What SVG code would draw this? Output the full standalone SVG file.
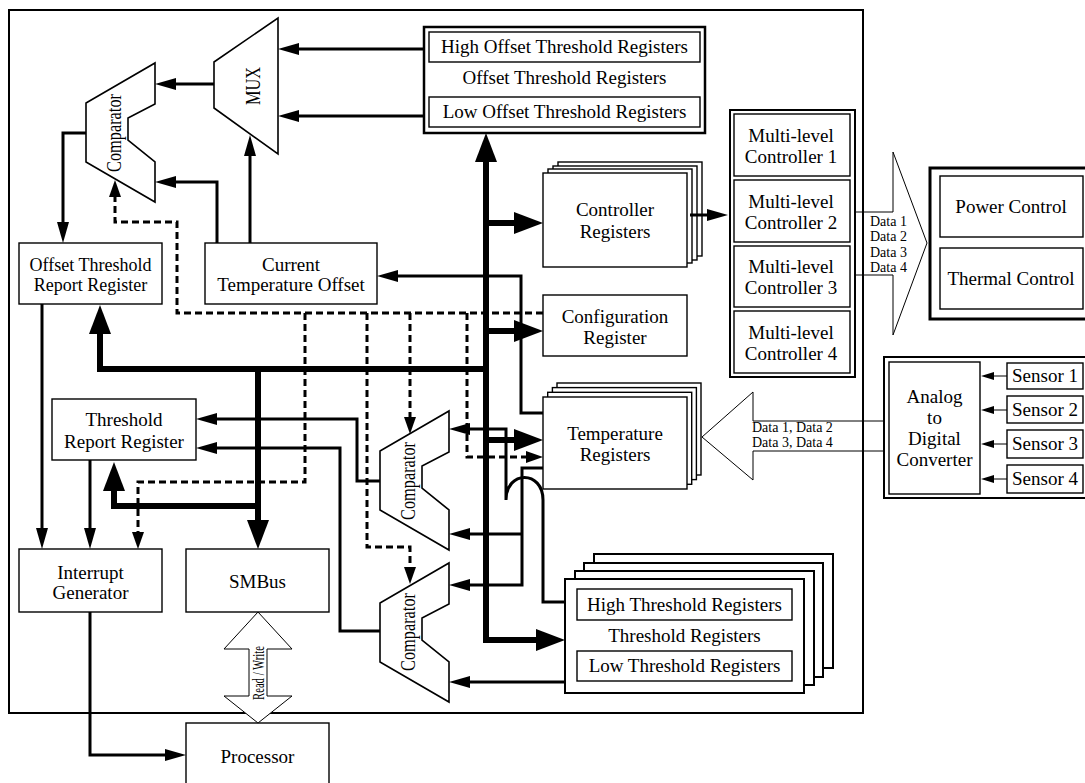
<svg xmlns="http://www.w3.org/2000/svg" width="1085" height="783" viewBox="0 0 1085 783">
<style>
.box{fill:#fff;stroke:#000;stroke-width:1.4}
.bold{fill:#fff;stroke:#000;stroke-width:2.5}
.t{font-family:"Liberation Serif","Times New Roman",serif;font-size:19px;text-anchor:middle;fill:#000}
.s{font-family:"Liberation Serif","Times New Roman",serif;font-size:14px;fill:#000}
.ln{fill:none;stroke:#000;stroke-width:3}
.thk{fill:none;stroke:#000;stroke-width:6}
.dsh{fill:none;stroke:#000;stroke-width:3;stroke-dasharray:7 4}
.thin{fill:none;stroke:#000;stroke-width:1}
.cmp{fill:#fff;stroke:#000;stroke-width:1.6}
</style>
<defs>
<marker id="a" markerUnits="userSpaceOnUse" markerWidth="21" markerHeight="12" refX="1" refY="6" orient="auto-start-reverse"><path d="M0,0 L21,6 L0,12 Z" fill="#000"/></marker>
<marker id="at" markerUnits="userSpaceOnUse" markerWidth="29" markerHeight="22" refX="1" refY="11" orient="auto-start-reverse"><path d="M0,0 L29,11 L0,22 Z" fill="#000"/></marker>
<marker id="ad" markerUnits="userSpaceOnUse" markerWidth="17" markerHeight="12" refX="1" refY="6" orient="auto"><path d="M0,0 L17,6 L0,12 Z" fill="#000"/></marker>
<marker id="as" markerUnits="userSpaceOnUse" markerWidth="13" markerHeight="8" refX="1" refY="4" orient="auto"><path d="M0,0 L13,4 L0,8 Z" fill="#000"/></marker>
<path id="comp" d="M0,0 L0,41 L-27,55 L-27,77 L0,99 L0,139 L-69,99 L-69,40 Z"/>
</defs>
<rect width="1085" height="783" fill="#fff"/>
<rect x="9" y="10" width="854" height="703" fill="none" stroke="#000" stroke-width="2"/>

<g id="offset-threshold-registers">
<rect class="bold" x="424" y="27" width="281" height="106"/>
<rect class="box" x="429" y="32" width="271" height="30"/>
<text class="t" x="564.5" y="53">High Offset Threshold Registers</text>
<text class="t" x="564.5" y="84">Offset Threshold Registers</text>
<rect class="box" x="429" y="97" width="271" height="30"/>
<text class="t" x="564.5" y="118">Low Offset Threshold Registers</text>
</g>

<g id="mux">
<polygon class="cmp" points="214,62 278,18 278,154 214,108"/>
<text class="t" style="font-size:22px" transform="translate(260,86) rotate(-90)" textLength="38" lengthAdjust="spacingAndGlyphs">MUX</text>
</g>

<g id="comparator-offset">
<use href="#comp" class="cmp" transform="translate(155,63)"/>
<text class="t" style="font-size:20px" transform="translate(121,133) rotate(-90)" textLength="78" lengthAdjust="spacingAndGlyphs">Comparator</text>
</g>

<g id="comparator-high">
<use href="#comp" class="cmp" transform="translate(449,411)"/>
<text class="t" style="font-size:20px" transform="translate(415,481) rotate(-90)" textLength="78" lengthAdjust="spacingAndGlyphs">Comparator</text>
</g>

<g id="comparator-low">
<use href="#comp" class="cmp" transform="translate(449,563)"/>
<text class="t" style="font-size:20px" transform="translate(415,632) rotate(-90)" textLength="78" lengthAdjust="spacingAndGlyphs">Comparator</text>
</g>

<g id="offset-threshold-report-register">
<rect class="box" x="19" y="243" width="143" height="61"/>
<text class="t" style="font-size:18px" x="90.5" y="271">Offset Threshold</text>
<text class="t" style="font-size:18px" x="90.5" y="291">Report Register</text>
</g>

<g id="current-temperature-offset">
<rect class="box" x="205" y="243" width="172" height="61"/>
<text class="t" x="291" y="271">Current</text>
<text class="t" x="291" y="291">Temperature Offset</text>
</g>

<g id="threshold-report-register">
<rect class="box" x="52" y="399" width="144" height="61"/>
<text class="t" x="124" y="426">Threshold</text>
<text class="t" x="124" y="448">Report Register</text>
</g>

<g id="interrupt-generator">
<rect class="box" x="19" y="549" width="143" height="63"/>
<text class="t" x="90.5" y="579">Interrupt</text>
<text class="t" x="90.5" y="599">Generator</text>
</g>

<g id="smbus">
<rect class="box" x="186" y="549" width="143" height="63"/>
<text class="t" x="257.5" y="588">SMBus</text>
</g>

<g id="processor">
<rect class="box" x="186" y="723" width="143" height="75"/>
<text class="t" x="257.5" y="763">Processor</text>
</g>

<g id="controller-registers">
<rect class="box" x="558" y="162" width="144" height="94"/>
<rect class="box" x="553" y="166" width="144" height="94"/>
<rect class="box" x="548" y="169" width="144" height="94"/>
<rect class="box" x="543" y="173" width="144" height="94"/>
<text class="t" x="615" y="216">Controller</text>
<text class="t" x="615" y="238">Registers</text>
</g>

<g id="configuration-register">
<rect class="box" x="543" y="295" width="144" height="61"/>
<text class="t" x="615" y="323">Configuration</text>
<text class="t" x="615" y="344">Register</text>
</g>

<g id="temperature-registers">
<rect class="box" x="557" y="383" width="144" height="92"/>
<rect class="box" x="552.4" y="387.6" width="144" height="92"/>
<rect class="box" x="547.7" y="392.3" width="144" height="92"/>
<rect class="box" x="543" y="397" width="144" height="92"/>
<text class="t" x="615" y="440">Temperature</text>
<text class="t" x="615" y="461">Registers</text>
</g>

<g id="threshold-registers">
<rect class="box" style="stroke-width:2" x="594" y="554" width="239" height="114"/>
<rect class="box" style="stroke-width:2" x="584" y="563" width="239" height="114"/>
<rect class="box" style="stroke-width:2" x="575" y="571" width="239" height="114"/>
<rect class="box" style="stroke-width:2" x="565" y="579" width="239" height="114"/>
<rect class="box" x="577" y="589" width="215" height="31"/>
<text class="t" x="684.5" y="611">High Threshold Registers</text>
<text class="t" x="684.5" y="642">Threshold Registers</text>
<rect class="box" x="577" y="651" width="215" height="30"/>
<text class="t" x="684.5" y="672">Low Threshold Registers</text>
</g>

<g id="multi-level-controllers">
<rect class="box" style="stroke-width:2" x="730" y="110" width="125" height="267"/>
<rect class="box" x="734" y="114" width="116" height="62"/>
<text class="t" x="791" y="142">Multi-level</text>
<text class="t" x="791" y="163">Controller 1</text>
<rect class="box" x="734" y="180" width="116" height="62"/>
<text class="t" x="791" y="208">Multi-level</text>
<text class="t" x="791" y="229">Controller 2</text>
<rect class="box" x="734" y="246" width="116" height="61"/>
<text class="t" x="791" y="273">Multi-level</text>
<text class="t" x="791" y="294">Controller 3</text>
<rect class="box" x="734" y="311" width="116" height="62"/>
<text class="t" x="791" y="339">Multi-level</text>
<text class="t" x="791" y="360">Controller 4</text>
</g>

<g id="power-thermal">
<rect class="box" style="stroke-width:3" x="930" y="168" width="165" height="151"/>
<rect class="box" x="940" y="176" width="143" height="61"/>
<text class="t" x="1011" y="213">Power Control</text>
<rect class="box" x="940" y="248" width="143" height="61"/>
<text class="t" x="1011" y="285">Thermal Control</text>
</g>

<g id="adc-sensors">
<rect class="box" style="stroke-width:2" x="884" y="357" width="210" height="141"/>
<rect class="box" x="889" y="362" width="91" height="132"/>
<text class="t" x="934.5" y="403">Analog</text>
<text class="t" x="934.5" y="424">to</text>
<text class="t" x="934.5" y="445">Digital</text>
<text class="t" x="934.5" y="466">Converter</text>
<rect class="box" x="1007" y="363" width="76" height="26"/>
<text class="t" x="1045" y="382">Sensor 1</text>
<rect class="box" x="1007" y="396" width="76" height="27"/>
<text class="t" x="1045" y="416">Sensor 2</text>
<rect class="box" x="1007" y="430" width="76" height="28"/>
<text class="t" x="1045" y="450">Sensor 3</text>
<rect class="box" x="1007" y="465" width="76" height="28"/>
<text class="t" x="1045" y="485">Sensor 4</text>
</g>

<g id="connectors">
<path class="ln" marker-end="url(#a)" d="M424,49 L298,49"/>
<path class="ln" marker-end="url(#a)" d="M424,116 L298,116"/>
<path class="ln" marker-end="url(#a)" d="M214,84 L175,84"/>
<path class="ln" marker-end="url(#a)" d="M217,243 L217,182 L175,182"/>
<path class="ln" marker-end="url(#a)" d="M250,243 L250,155"/>
<path class="ln" marker-end="url(#a)" d="M86,133 L63,133 L63,223"/>
<path class="ln" marker-end="url(#a)" d="M543,413 L521,413 L521,276 L397,276"/>
<path class="ln" marker-end="url(#a)" d="M42,304 L42,529"/>
<path class="ln" marker-end="url(#a)" d="M90,460 L90,529"/>
<path class="ln" marker-end="url(#a)" d="M380,481 L357,481 L357,419 L216,419"/>
<path class="ln" marker-end="url(#a)" d="M380,631 L340,631 L340,448 L216,448"/>
<path class="ln" marker-end="url(#a)" d="M543,468 L522,468 L522,585 L469,585"/>
<path class="ln" marker-end="url(#a)" d="M522,534 L469,534"/>
<path class="ln" marker-end="url(#a)" d="M565,602 L543,602 L543,500 C543,470 506,470 506,500 L506,429 L469,429"/>
<path class="ln" marker-end="url(#a)" d="M565,682 L469,682"/>
<path class="ln" marker-end="url(#a)" d="M90,612 L90,755 L166,755"/>
<path class="ln" marker-end="url(#a)" d="M690,215 L708,215"/>

<path class="thk" marker-start="url(#at)" marker-end="url(#at)" d="M537,640 L486,640 L486,161"/>
<path class="thk" marker-end="url(#at)" d="M486,223 L515,223"/>
<path class="thk" marker-end="url(#at)" d="M486,331 L515,331"/>
<path class="thk" marker-end="url(#at)" d="M486,440 L515,440"/>
<path class="thk" marker-end="url(#at)" d="M486,369 L100,369 L100,333"/>
<path class="thk" marker-end="url(#at)" d="M258,369 L258,521"/>
<path class="thk" marker-end="url(#at)" d="M258,506 L114,506 L114,490"/>

<path class="dsh" marker-end="url(#ad)" d="M543,313 L177,313 L177,222 L115,222 L115,196"/>
<path class="dsh" marker-end="url(#ad)" d="M305,313 L305,482 L138,482 L138,533"/>
<path class="dsh" marker-end="url(#ad)" d="M367,313 L367,547 L410,547 L410,568"/>
<path class="dsh" marker-end="url(#ad)" d="M410,313 L410,418"/>
<path class="dsh" marker-end="url(#ad)" d="M467,313 L467,457 L527,457"/>

<path class="thin" d="M855,212 L893,212 L893,152 L927,243 L893,335 L893,275 L855,275"/>
<path class="thin" d="M884,421 L753,421 L753,392 L702,437 L753,480 L753,451 L884,451"/>
<path class="thin" marker-end="url(#as)" d="M1007,376 L993,376"/>
<path class="thin" marker-end="url(#as)" d="M1007,410 L993,410"/>
<path class="thin" marker-end="url(#as)" d="M1007,444 L993,444"/>
<path class="thin" marker-end="url(#as)" d="M1007,479 L993,479"/>
<polygon fill="#fff" stroke="#000" stroke-width="1" points="258,612 292,649 267,649 267,696 292,696 258,723 224,696 249,696 249,649 224,649"/>
</g>

<g id="labels">
<text class="s" x="870" y="226">Data 1</text>
<text class="s" x="870" y="241">Data 2</text>
<text class="s" x="870" y="257">Data 3</text>
<text class="s" x="870" y="272">Data 4</text>
<text class="s" x="752" y="432">Data 1, Data 2</text>
<text class="s" x="752" y="447">Data 3, Data 4</text>
<text class="t" style="font-size:16px" transform="translate(264,673) rotate(-90)" textLength="54" lengthAdjust="spacingAndGlyphs">Read / Write</text>
</g>
</svg>
